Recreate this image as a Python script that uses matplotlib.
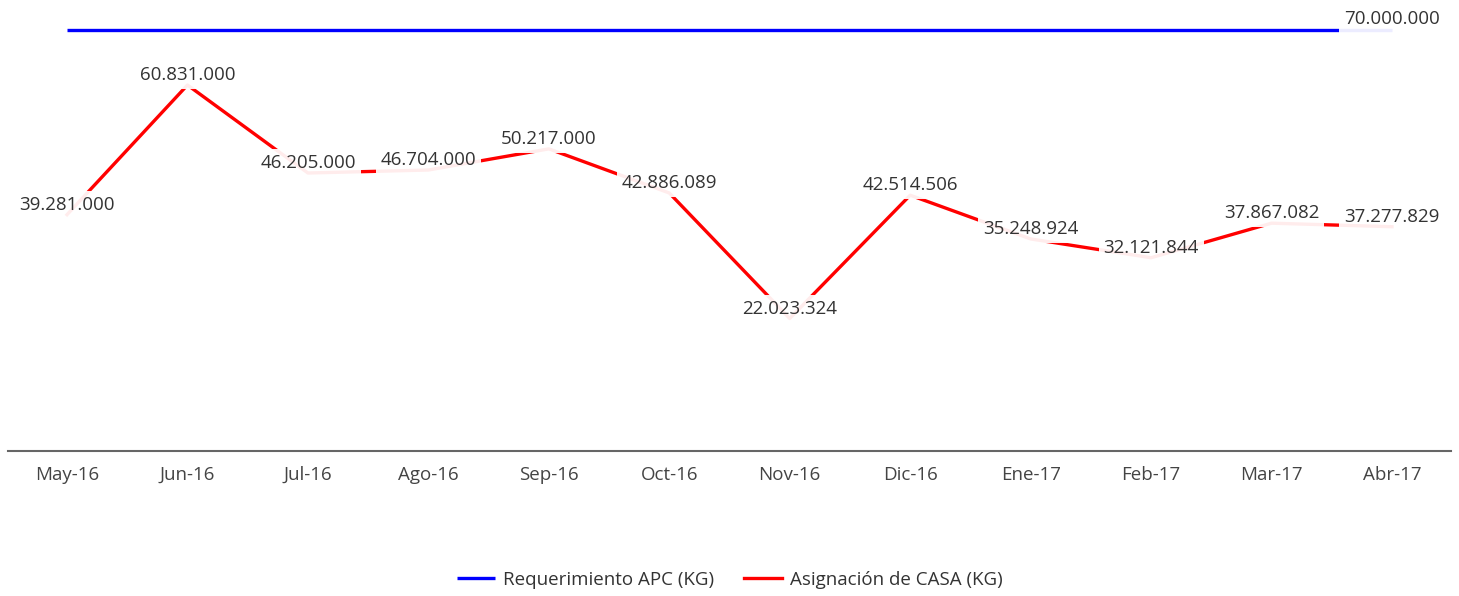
import numpy as np
import matplotlib
matplotlib.use('Agg')
import matplotlib.pyplot as plt

plt.rcParams['font.family'] = ['Open Sans', 'DejaVu Sans']

months = ['May-16', 'Jun-16', 'Jul-16', 'Ago-16', 'Sep-16', 'Oct-16',
          'Nov-16', 'Dic-16', 'Ene-17', 'Feb-17', 'Mar-17', 'Abr-17']
requerimiento = [70000000] * 12
asignacion = [39281000, 60831000, 46205000, 46704000, 50217000, 42886089,
              22023324, 42514506, 35248924, 32121844, 37867082, 37277829]


def fmt(v):
    return f'{v:,.0f}'.replace(',', '.')


fig = plt.figure(figsize=(14.59, 5.96), dpi=100)
ax = fig.add_axes([8 / 1459, 1 - 451 / 596, 1443 / 1459, 441 / 596])

x = np.arange(len(months))
ax.plot(x, requerimiento, color='#0000ff', lw=2.4, label='Requerimiento APC (KG)',
        solid_capstyle='butt', zorder=2)
ax.plot(x, asignacion, color='#ff0000', lw=2.4, label='Asignación de CASA (KG)',
        solid_joinstyle='round', zorder=2)

fs = 13.5
box = dict(facecolor='white', edgecolor='none', alpha=0.93, pad=3.5)
ax.annotate(fmt(requerimiento[-1]), (x[-1], requerimiento[-1]), xytext=(0, 7.5),
            textcoords='offset points', ha='center', va='center', fontsize=fs,
            color='#333333', bbox=box, zorder=3)
for xi, v in zip(x, asignacion):
    ax.annotate(fmt(v), (xi, v), xytext=(0, 7), textcoords='offset points',
                ha='center', va='center', fontsize=fs, color='#333333',
                bbox=box, zorder=3)

ax.set_xlim(-0.49, 11.49)
ax.set_ylim(0, 73.3e6)
ax.set_xticks(x)
ax.set_xticklabels(months, fontsize=fs, color='#444444')
ax.tick_params(axis='x', length=0, pad=11)
ax.set_yticks([])
for s in ['top', 'left', 'right']:
    ax.spines[s].set_visible(False)
ax.spines['bottom'].set_color('#666666')
ax.spines['bottom'].set_linewidth(1.5)

fig.legend(loc='center', bbox_to_anchor=(730 / 1459, 1 - 580 / 596), ncol=2,
           frameon=False, fontsize=fs, handlelength=2.0, handletextpad=0.45,
           columnspacing=1.6, labelcolor='#333333')

fig.savefig('out.png', dpi=100)
